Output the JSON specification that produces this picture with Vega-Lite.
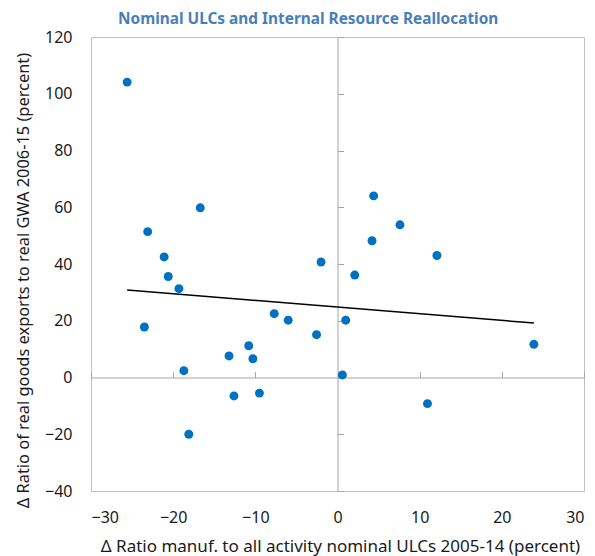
{
  "$schema": "https://vega.github.io/schema/vega-lite/v6.json",
  "autosize": {"type": "none"},
  "width": 493,
  "height": 454,
  "padding": {"left": 91, "top": 37, "right": 11, "bottom": 65},
  "background": "white",
  "config": {
    "font": "Noto Sans",
    "view": {"stroke": "#c0c0c0", "strokeWidth": 1}
  },
  "title": {
    "text": "Nominal ULCs and Internal Resource Reallocation",
    "anchor": "start",
    "frame": "group",
    "dx": 27,
    "offset": 2,
    "fontSize": 15.4,
    "fontWeight": "bold",
    "color": "#4a7ebb",
    "font": "Noto Sans"
  },
  "datasets": {
    "points": [
      {"ulc": -25.6, "exports": 104.1},
      {"ulc": -16.7, "exports": 59.8},
      {"ulc": -23.1, "exports": 51.4},
      {"ulc": -21.1, "exports": 42.5},
      {"ulc": -20.6, "exports": 35.6},
      {"ulc": -19.3, "exports": 31.3},
      {"ulc": -2.0, "exports": 40.7},
      {"ulc": -23.5, "exports": 17.8},
      {"ulc": -7.7, "exports": 22.5},
      {"ulc": -6.0, "exports": 20.2},
      {"ulc": -2.55, "exports": 15.1},
      {"ulc": -10.8, "exports": 11.2},
      {"ulc": -13.2, "exports": 7.6},
      {"ulc": -10.3, "exports": 6.6},
      {"ulc": -18.7, "exports": 2.4},
      {"ulc": -12.6, "exports": -6.5},
      {"ulc": -9.5, "exports": -5.5},
      {"ulc": -18.1, "exports": -20.0},
      {"ulc": 4.4, "exports": 64.0},
      {"ulc": 7.6, "exports": 53.8},
      {"ulc": 4.2, "exports": 48.2},
      {"ulc": 12.1, "exports": 43.0},
      {"ulc": 2.1, "exports": 36.1},
      {"ulc": 1.0, "exports": 20.2},
      {"ulc": 0.6, "exports": 0.9},
      {"ulc": 23.9, "exports": 11.7},
      {"ulc": 10.95, "exports": -9.2}
    ],
    "trend": [
      {"ulc": -25.6, "exports": 30.87},
      {"ulc": 23.9, "exports": 19.19}
    ]
  },
  "layer": [
    {
      "data": {"name": "points"},
      "mark": {"type": "point", "filled": true, "shape": "circle", "size": 80, "color": "#0070c0", "opacity": 1},
      "encoding": {
        "x": {
          "field": "ulc", "type": "quantitative",
          "scale": {"domain": [-30, 30], "nice": false, "zero": false},
          "axis": {
            "orient": "bottom", "values": [-30, -20, -10, 0, 10, 20, 30],
            "grid": false, "ticks": false, "domain": false,
            "labelFontSize": 16, "labelColor": "#1a1a1a", "labelPadding": 18,
            "title": "Δ Ratio manuf. to all activity nominal ULCs 2005-14 (percent)",
            "titleFontSize": 17, "titleFontWeight": "normal", "titleColor": "#1a1a1a", "titlePadding": 13, "titleX": 249
          }
        },
        "y": {
          "field": "exports", "type": "quantitative",
          "scale": {"domain": [-40, 120], "nice": false, "zero": false},
          "axis": {
            "orient": "left", "values": [-40, -20, 0, 20, 40, 60, 80, 100, 120],
            "grid": false, "ticks": false, "domain": false,
            "labelFontSize": 16, "labelColor": "#1a1a1a", "labelPadding": 19,
            "title": "Δ Ratio of real goods exports to real GWA 2006-15 (percent)",
            "titleFontSize": 16.4, "titleFontWeight": "normal", "titleColor": "#1a1a1a", "titlePadding": 13, "titleY": 243
          }
        }
      }
    },
    {
      "data": {"name": "trend"},
      "mark": {"type": "line", "color": "black", "strokeWidth": 1.5},
      "encoding": {
        "x": {
          "field": "ulc", "type": "quantitative",
          "axis": {
            "orient": "top", "offset": -340.5, "values": [-30, -20, -10, 0, 10, 20, 30],
            "labels": false, "title": null, "grid": false,
            "ticks": true, "tickSize": 6, "tickColor": "#a6a6a6", "domainColor": "#a6a6a6", "domainWidth": 1
          }
        },
        "y": {
          "field": "exports", "type": "quantitative",
          "axis": {
            "orient": "right", "offset": -246.5, "values": [-40, -20, 0, 20, 40, 60, 80, 100, 120],
            "labels": false, "title": null, "grid": false,
            "ticks": true, "tickSize": 6, "tickColor": "#a6a6a6", "domainColor": "#a6a6a6", "domainWidth": 1
          }
        }
      }
    },
    {
      "mark": {"type": "text", "fontSize": 16, "color": "#1a1a1a", "align": "center"},
      "encoding": {
        "x": {"datum": 16.5, "type": "quantitative", "axis": null},
        "y": {"datum": 88, "type": "quantitative", "axis": null},
        "text": {"value": "y = -0.2361x + 24.828"}
      }
    },
    {
      "mark": {"type": "text", "fontSize": 16, "color": "#1a1a1a", "align": "center"},
      "encoding": {
        "x": {"datum": 18.1, "type": "quantitative", "axis": null},
        "y": {"datum": 79.9, "type": "quantitative", "axis": null},
        "text": {"value": "R² = 0.012"}
      }
    }
  ],
  "resolve": {"axis": {"x": "independent", "y": "independent"}}
}
